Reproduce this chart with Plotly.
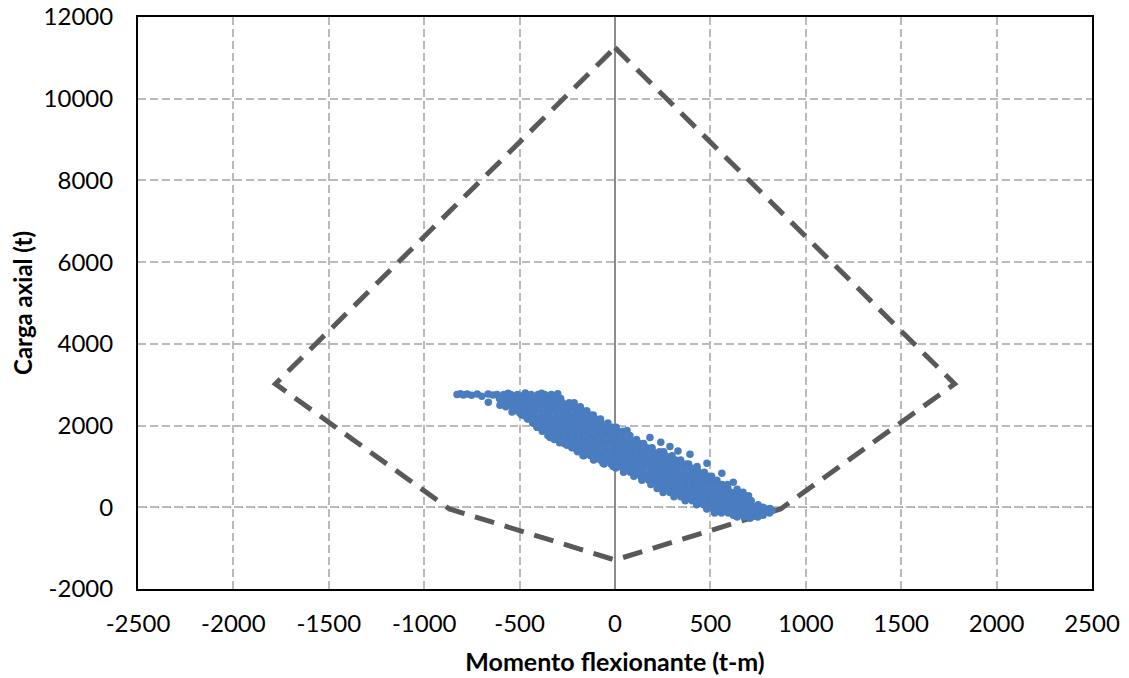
import plotly.graph_objects as go

# ---------------- data ----------------
# Interaction diagram (dashed envelope)
envelope_moment = [0, 1780, 868, 0, -868, -1780, 0]
envelope_axial = [11250, 3020, -40, -1290, -40, 3020, 11250]

# Demand points read row by row (axial load level -> moments on that level)
row_axial = [2760, 2660, 2560, 2460, 2360, 2260, 2160, 2060, 1960, 1860,
             1760, 1660, 1560, 1460, 1360, 1260, 1160, 1060, 960, 860,
             760, 660, 560, 460, 360, 260, 160, 60, -40, -140, -240]
row_moments = [
    [-618, -583, -546, -511, -474, -440, -404, -369, -334],
    [-606, -571, -535, -498, -463, -428, -391, -356, -320, -285],
    [-598, -562, -527, -490, -455, -419, -383, -348, -311, -276, -240, -214],
    [-572, -537, -500, -466, -430, -394, -358, -322, -287, -251, -216, -182],
    [-528, -492, -456, -421, -385, -349, -313, -278, -242, -206, -171, -148],
    [-489, -452, -418, -381, -346, -310, -274, -239, -203, -167, -132, -114],
    [-458, -423, -387, -351, -316, -280, -244, -209, -172, -137, -101, -76],
    [-430, -394, -358, -322, -287, -251, -215, -180, -143, -108, -72, -37],
    [-408, -372, -336, -300, -264, -229, -193, -157, -121, -86, -50, -14, 6],
    [-381, -345, -309, -273, -238, -202, -166, -130, -95, -59, -23, 12, 40],
    [-352, -316, -280, -245, -209, -173, -137, -102, -66, -30, 5, 41, 78],
    [-318, -283, -247, -211, -175, -140, -104, -68, -32, 3, 39, 75, 113],
    [-266, -230, -194, -158, -123, -87, -51, -15, 20, 56, 92, 128, 150],
    [-226, -190, -154, -118, -83, -47, -11, 25, 60, 96, 132, 168, 194],
    [-196, -160, -124, -88, -53, -17, 19, 55, 90, 126, 162, 198, 233, 255],
    [-164, -128, -92, -57, -21, 15, 51, 86, 122, 158, 194, 229, 265, 299],
    [-112, -76, -40, -5, 31, 67, 103, 138, 174, 210, 246, 281, 317, 344],
    [-57, -21, 15, 51, 86, 122, 158, 194, 229, 265, 301, 337, 372, 386],
    [4, 40, 76, 112, 147, 183, 219, 255, 290, 326, 362, 398, 429],
    [45, 81, 117, 152, 188, 224, 260, 295, 331, 367, 403, 438, 468],
    [99, 135, 171, 206, 242, 278, 314, 349, 385, 421, 457, 492, 506],
    [141, 177, 213, 248, 284, 320, 356, 391, 427, 463, 499, 534],
    [188, 224, 260, 295, 331, 367, 403, 438, 474, 510, 546, 561],
    [221, 257, 293, 328, 364, 400, 436, 471, 507, 543, 579, 592],
    [252, 288, 324, 359, 395, 431, 467, 502, 538, 574, 610, 640],
    [309, 345, 381, 416, 452, 488, 524, 559, 595, 631, 667, 681],
    [368, 404, 440, 475, 511, 547, 583, 618, 654, 690, 714],
    [428, 464, 500, 535, 571, 607, 643, 678, 714, 750],
    [481, 517, 553, 588, 624, 660, 696, 731, 767, 789],
    [522, 558, 594, 630, 666, 702, 738, 774, 810],
    [640, 676, 712, 748],
]

# Scattered individual points around the dense band
scatter_moment = [-828, -810, -795, -775, -752, -722, -698, -665, -664, -640,
                  -603, -540, -498, -455, -409, -400, -340, -300, -252, -210,
                  -168, -120, -63, -10, -79, 63, 183, 288, 393, 482,
                  560, 620, 671, 708, 776, 430, 330, 240, 590, 640,
                  700, 708, 620, 776, 823, 812, -560, -470, -385, -300,
                  -600, -520, -440, -360, -470, -430, -350, -290, -200, -110]
scatter_axial = [2760, 2780, 2750, 2770, 2740, 2770, 2720, 2770, 2570, 2750,
                 2500, 2330, 2300, 2170, 1960, 2050, 1710, 1800, 1520, 1640,
                 1270, 1350, 1080, 1000, 2140, 1880, 1710, 1490, 1300, 1080,
                 830, 610, 370, 170, 0, 1000, 1380, 1590, 560, 440,
                 280, -270, -196, -196, -73, -30, 2790, 2800, 2790, 2780,
                 2680, 2610, 2700, 2620, 2230, 2060, 1850, 1580, 1400, 1170]

x_tick_values = [-2500, -2000, -1500, -1000, -500, 0, 500, 1000, 1500, 2000, 2500]
x_tick_labels = ["-2500", "-2000", "-1500", "-1000", "-500", "0", "500", "1000", "1500", "2000", "2500"]
y_tick_values = [-2000, 0, 2000, 4000, 6000, 8000, 10000, 12000]
y_tick_labels = ["-2000", "0", "2000", "4000", "6000", "8000", "10000", "12000"]

# ---------------- build ----------------
pts_x, pts_y = [], []
for p, ms in zip(row_axial, row_moments):
    for m in ms:
        pts_x.append(m)
        pts_y.append(p)
pts_x += scatter_moment
pts_y += scatter_axial

FONT = "Lato"
fig = go.Figure()
fig.add_trace(go.Scatter(
    x=envelope_moment, y=envelope_axial, mode="lines",
    line=dict(color="#595959", width=5, dash="20px,11px"),
    hoverinfo="skip", showlegend=False))
fig.add_trace(go.Scatter(
    x=pts_x, y=pts_y, mode="markers",
    marker=dict(color="#4A7CC0", size=7.5, line=dict(width=0)),
    showlegend=False))

fig.add_shape(type="line", xref="paper", yref="y", x0=0, x1=1, y0=0, y1=0,
              line=dict(color="#7F7F7F", width=1.5, dash="dot"), layer="below")

axis_common = dict(
    showline=True, linecolor="black", linewidth=2, mirror=True,
    showgrid=True, gridcolor="#BABABA", gridwidth=1.5, griddash="8px,4px",
    ticks="", tickfont=dict(family=FONT, size=24, color="black"),
    ticklabeloverflow="allow",
)
fig.update_xaxes(
    **axis_common, range=[-2500, 2500], tickvals=x_tick_values, ticktext=x_tick_labels,
    zeroline=True, zerolinecolor="#8C8C8C", zerolinewidth=1.5,
    ticklabelstandoff=12,
    title=dict(text="<b>Momento flexionante (t-m)</b>", font=dict(family=FONT, size=25, color="black"), standoff=18),
)
fig.update_yaxes(
    **axis_common, range=[-2000, 12000], tickvals=y_tick_values, ticktext=y_tick_labels,
    zeroline=False, ticklabelstandoff=18,
    title=dict(text="<b>Carga axial (t)</b>", font=dict(family=FONT, size=24, color="black"), standoff=14),
)
# page body adds an 8px margin, so the figure is 8px smaller and shifted
fig.update_layout(
    width=1121, height=670,
    margin=dict(l=130, r=37, t=9, b=89, autoexpand=False),
    paper_bgcolor="white", plot_bgcolor="white",
    showlegend=False,
)
fig.write_html("out.html")
